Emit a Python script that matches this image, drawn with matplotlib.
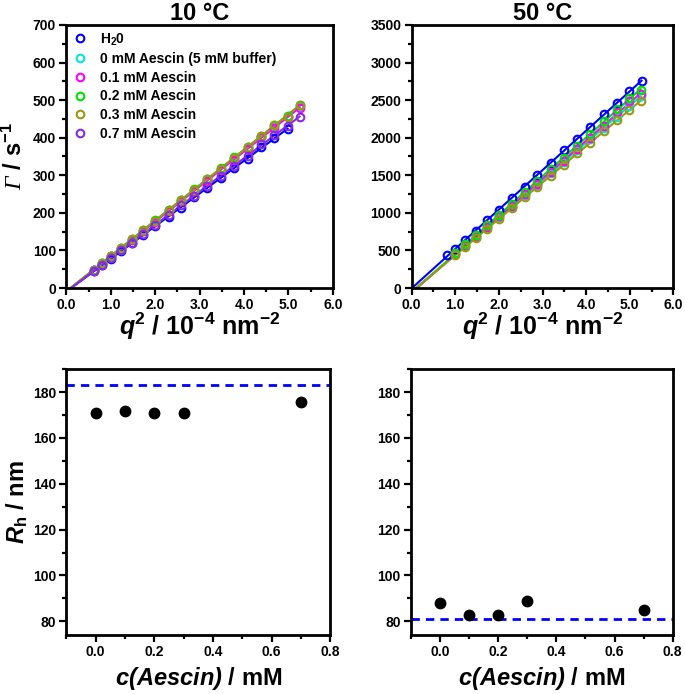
"""
DLS: relaxation rate vs q^2 at 10 and 50 degC, plus hydrodynamic radius vs aescin.
"""

import numpy as np
import matplotlib
matplotlib.use('Agg')
import matplotlib.pyplot as plt
from matplotlib.ticker import MultipleLocator

plt.rcParams['font.family'] = ['Liberation Sans', 'DejaVu Sans']
plt.rcParams['font.weight'] = 'bold'
plt.rcParams['mathtext.fontset'] = 'custom'
plt.rcParams['mathtext.rm'] = 'Liberation Sans:bold'
plt.rcParams['mathtext.bf'] = 'Liberation Sans:bold'
plt.rcParams['mathtext.it'] = 'Liberation Sans:bold:italic'
plt.rcParams['mathtext.bfit'] = 'Liberation Sans:bold:italic'

# ---- data, 10 degC ----
labels = [r'H$_2$0', '0 mM Aescin (5 mM buffer)', '0.1 mM Aescin',
          '0.2 mM Aescin', '0.3 mM Aescin', '0.7 mM Aescin']
colors = ['#0000ff', '#00e5e5', '#ff00ff', '#00e000', '#9a9a10', '#8a2be2']

q2_10 = [0.62, 0.80, 1.00, 1.23, 1.47, 1.73, 2.00, 2.30, 2.58, 2.88,
         3.17, 3.47, 3.78, 4.08, 4.38, 4.68, 4.98, 5.25]
g10_h2o = [45, 61, 78, 98, 119, 141, 165, 190, 213, 241,
           266, 292, 320, 344, 374, 400, 423]
g10_0 = [49, 66, 85, 106, 129, 153, 179, 207, 233, 261,
         289, 317, 346, 374, 402, 431, 459, 484]
g10_01 = [48, 65, 84, 105, 127, 152, 177, 205, 231, 259,
          286, 313, 342, 370, 403, 426, 454, 479]
g10_02 = [49, 66, 86, 107, 130, 154, 180, 208, 234, 263,
          290, 319, 348, 376, 405, 433, 457, 486]
g10_03 = [49, 66, 85, 107, 130, 154, 179, 208, 234, 262,
          290, 318, 347, 376, 404, 433, 456, 487]
g10_07 = [46, 62, 80, 100, 121, 144, 168, 195, 220, 246,
          272, 298, 326, 352, 382, 406, 432, 455]

# ---- data, 50 degC ----
q2_50_h2o = [0.80, 1.00, 1.23, 1.47, 1.73, 2.01, 2.29, 2.59, 2.88,
             3.19, 3.49, 3.80, 4.10, 4.41, 4.71, 4.99, 5.27]
q2_50 = [1.00, 1.23, 1.47, 1.73, 2.01, 2.29, 2.59, 2.88,
         3.19, 3.49, 3.80, 4.10, 4.41, 4.71, 4.99, 5.25]
g50_h2o = [433, 522, 637, 765, 902, 1044, 1195, 1345, 1500,
           1664, 1832, 1987, 2146, 2314, 2460, 2619, 2761]
g50_0 = [446, 559, 678, 807, 945, 1084, 1233, 1376,
         1530, 1678, 1832, 1980, 2133, 2282, 2421, 2549]
g50_01 = [450, 565, 685, 815, 955, 1095, 1245, 1390,
          1545, 1695, 1850, 2000, 2155, 2345, 2490, 2575]
g50_02 = [461, 579, 701, 835, 978, 1121, 1275, 1423,
          1582, 1736, 1894, 2048, 2220, 2380, 2525, 2637]
g50_03 = [436, 547, 663, 789, 924, 1060, 1205, 1346,
          1496, 1641, 1791, 1936, 2086, 2231, 2367, 2493]

# ---- hydrodynamic radius ----
c_aescin = [0.0, 0.1, 0.2, 0.3, 0.7]
rh_10 = [170.9, 171.7, 170.9, 170.9, 175.8]
rh_50 = [88.0, 82.9, 82.9, 89.0, 85.1]
rh_water_10 = 183.0
rh_water_50 = 81.0


def style_axes(ax):
    for sp in ax.spines.values():
        sp.set_linewidth(2.0)
    ax.tick_params(which='both', direction='out', width=1.6, pad=2.5,
                   labelsize=10, top=False, right=False)
    ax.tick_params(which='major', length=5)
    ax.tick_params(which='minor', length=3)
    for lab in ax.get_xticklabels() + ax.get_yticklabels():
        lab.set_fontweight('bold')


def plot_series(ax, q2, gamma, color, label):
    q2 = np.asarray(q2)
    gamma = np.asarray(gamma)
    ax.plot(q2, gamma, 'o', mfc='none', mec=color, mew=1.5, ms=5.5,
            label=label, zorder=3)
    m, b = np.polyfit(q2, gamma, 1)
    xs = np.array([-b / m, q2.max()])
    ax.plot(xs, m * xs + b, '-', color=color, lw=1.5, zorder=2)


fig = plt.figure(figsize=(6.85, 6.94), dpi=100)
ax1 = fig.add_axes([0.097, 0.585, 0.389, 0.379])
ax2 = fig.add_axes([0.601, 0.585, 0.382, 0.379])
ax3 = fig.add_axes([0.097, 0.085, 0.385, 0.383])
ax4 = fig.add_axes([0.600, 0.085, 0.382, 0.383])

# 10 degC
sets10 = [(q2_10[:len(g10_h2o)], g10_h2o), (q2_10, g10_0), (q2_10, g10_01),
          (q2_10, g10_02), (q2_10, g10_03), (q2_10, g10_07)]
for (q, g), col, lab in zip(sets10, colors, labels):
    plot_series(ax1, q, g, col, lab)
ax1.set_xlim(0, 6)
ax1.set_ylim(0, 700)
ax1.xaxis.set_major_locator(MultipleLocator(1))
ax1.xaxis.set_minor_locator(MultipleLocator(0.5))
ax1.yaxis.set_major_locator(MultipleLocator(100))
ax1.yaxis.set_minor_locator(MultipleLocator(50))
ax1.xaxis.set_major_formatter(lambda v, p: f'{v:.1f}')
ax1.set_title('10 °C', fontsize=17, fontweight='bold', pad=1)
# Gamma outside mathtext so it can be a serif italic
ax1.set_ylabel(r'Γ$\mathbf{\ /\ s^{-1}}$', fontsize=17,
               family='Liberation Serif', style='italic', weight='normal',
               labelpad=4)
ax1.legend(loc='upper left', frameon=False, handletextpad=1.0,
           labelspacing=0.33, borderaxespad=0.15, borderpad=0.3,
           handlelength=1.0, prop={'weight': 'bold', 'size': 10})

# 50 degC
sets50 = [(q2_50_h2o, g50_h2o), (q2_50, g50_0), (q2_50, g50_01),
          (q2_50, g50_02), (q2_50, g50_03)]
for (q, g), col, lab in zip(sets50, colors, labels):
    plot_series(ax2, q, g, col, lab)
ax2.set_xlim(0, 6)
ax2.set_ylim(0, 3500)
ax2.xaxis.set_major_locator(MultipleLocator(1))
ax2.xaxis.set_minor_locator(MultipleLocator(0.5))
ax2.yaxis.set_major_locator(MultipleLocator(500))
ax2.yaxis.set_minor_locator(MultipleLocator(250))
ax2.xaxis.set_major_formatter(lambda v, p: f'{v:.1f}')
ax2.set_title('50 °C', fontsize=17, fontweight='bold', pad=1)

qlabel = r'$\mathbfit{q}^{\mathbf{2}}$ / 10$^{\mathbf{-4}}$ nm$^{\mathbf{-2}}$'
for ax in (ax1, ax2):
    ax.set_xlabel(qlabel, fontsize=18, fontweight='bold', labelpad=-1)

# Rh vs aescin
for ax, rh, rw in ((ax3, rh_10, rh_water_10), (ax4, rh_50, rh_water_50)):
    ax.axhline(rw, color='#0000ff', lw=2, dashes=(3, 2.2))
    ax.plot(c_aescin, rh, 'o', color='black', ms=7.5)
    ax.set_xlim(-0.1, 0.8)
    ax.set_ylim(74, 190)
    ax.xaxis.set_major_locator(MultipleLocator(0.2))
    ax.xaxis.set_minor_locator(MultipleLocator(0.1))
    ax.yaxis.set_major_locator(MultipleLocator(20))
    ax.yaxis.set_minor_locator(MultipleLocator(10))
    ax.xaxis.set_major_formatter(lambda v, p: f'{v:.1f}')
    ax.set_xlabel(r'$\mathbfit{c(Aescin)}$ / mM', fontsize=17,
                  fontweight='bold', labelpad=4)
ax3.set_ylabel(r'$\mathbfit{R}_{\mathbf{h}}$ / nm', fontsize=17,
               fontweight='bold', labelpad=2)

for ax in (ax1, ax2, ax3, ax4):
    style_axes(ax)

fig.savefig('out.png', dpi=100)
plt.close(fig)
